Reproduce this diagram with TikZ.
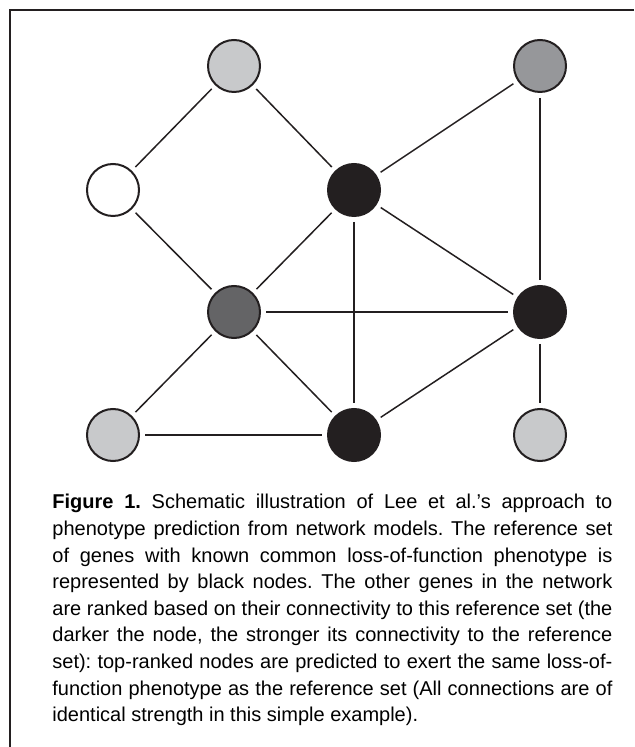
\documentclass[tikz,border=0pt]{standalone}
\usepackage{fontspec}
\setmainfont{Liberation Sans}
\usepackage{tikz}
\usetikzlibrary{shapes}
\definecolor{lightgene}{RGB}{200,201,203}
\definecolor{midgene}{RGB}{150,151,154}
\definecolor{darkgene}{RGB}{100,100,102}
\definecolor{refgene}{RGB}{35,31,32}
\tikzset{
gene/.style={circle, draw=refgene, line width=1pt, minimum size=26pt, inner sep=0pt},
link/.style={refgene, line width=0.75pt, shorten <=2.5pt, shorten >=2.5pt}
}
\begin{document}
\begin{tikzpicture}[x=0.5pt,y=-0.5pt]
\useasboundingbox (0,0) rectangle (634,747);
\draw [refgene, line width=1pt] (634,10) -- (10,10) -- (10,747);
\node [gene, fill=lightgene] (n1) at (234,66) {};
\node [gene, fill=midgene] (n2) at (540,66) {};
\node [gene, fill=white] (n3) at (113,190) {};
\node [gene, fill=refgene] (n4) at (354,190) {};
\node [gene, fill=darkgene] (n5) at (234,312) {};
\node [gene, fill=refgene] (n6) at (540,312) {};
\node [gene, fill=lightgene] (n7) at (113,435) {};
\node [gene, fill=refgene] (n8) at (354,435) {};
\node [gene, fill=lightgene] (n9) at (540,435) {};
\foreach \a/\b in {n1/n3, n1/n4, n3/n5, n4/n5, n4/n2, n4/n8, n4/n6, n2/n6, n5/n6, n5/n7, n5/n8, n7/n8, n8/n6, n6/n9}{
\draw [link] (\a) -- (\b);
}
\node [anchor=north west, inner sep=0pt, text width=280pt, align=justify,
  font=\fontsize{10pt}{13.3pt}\selectfont\frenchspacing] (caption) at (52,494)
{{\bfseries Figure 1.} Schematic illustration of Lee et al.'s approach to\linebreak
phenotype prediction from network models. The reference set\linebreak
of genes with known common loss-of-function phenotype is\linebreak
represented by black nodes. The other genes in the network\linebreak
are ranked based on their connectivity to this reference set (the\linebreak
darker the node, the stronger its connectivity to the reference\linebreak
set): top-ranked nodes are predicted to exert the same loss-of-\linebreak
function phenotype as the reference set (All connections are of\linebreak
identical strength in this simple example).};
\end{tikzpicture}
\end{document}
